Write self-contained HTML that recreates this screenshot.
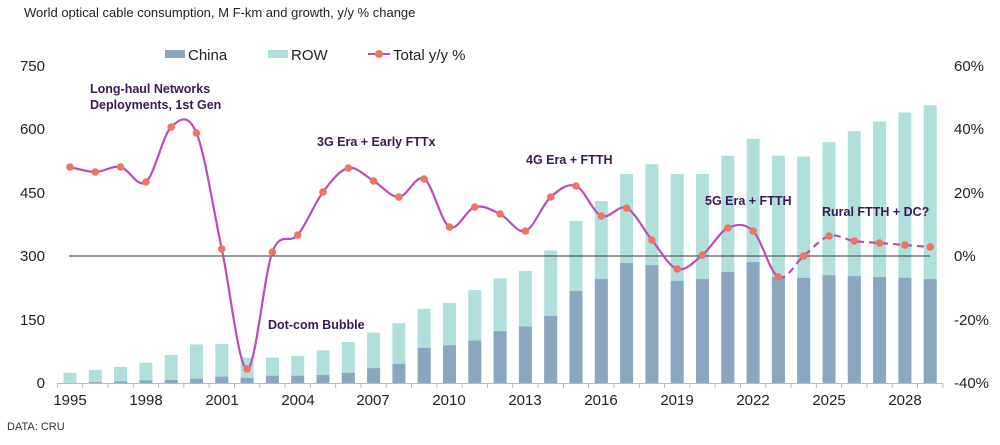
<!DOCTYPE html>
<html><head><meta charset="utf-8"><style>
body{margin:0;background:#fff;width:1000px;height:440px;overflow:hidden}
svg{font-family:"Liberation Sans",Arial,sans-serif}
.a{font-weight:bold;font-size:12.5px;fill:#3a1a50}
.t{font-size:15px;fill:#222}
</style></head><body>
<svg id="s" width="1000" height="440" viewBox="0 0 1000 440">
<text x="24" y="17" font-size="13" fill="#222">World optical cable consumption, M F-km and growth, y/y % change</text>
<rect x="165" y="50" width="20" height="8" fill="#8aa7bf"/><text class="t" x="188" y="60">China</text>
<rect x="268" y="50" width="20" height="8" fill="#b0e0dc"/><text class="t" x="291" y="60">ROW</text>
<line x1="368" y1="54" x2="390" y2="54" stroke="#b94fb0" stroke-width="2"/><circle cx="379" cy="54" r="4" fill="#f07368"/><text class="t" x="393" y="60">Total y/y %</text>
<g class="t" text-anchor="end">
<text x="45" y="71">750</text><text x="45" y="134">600</text><text x="45" y="198">450</text><text x="45" y="261">300</text><text x="45" y="325">150</text><text x="45" y="388">0</text>
</g>
<g class="t">
<text x="954" y="71">60%</text><text x="954" y="134">40%</text><text x="954" y="198">20%</text><text x="954" y="261">0%</text><text x="954" y="325">-20%</text><text x="954" y="388">-40%</text>
</g>
<g id="bars"></g>
<line x1="69" y1="256" x2="930" y2="256" stroke="#333" stroke-width="1"/>
<g id="axis"></g>
<path id="l1" fill="none" stroke="#b94fb0" stroke-width="2.2"/>
<path id="l2" fill="none" stroke="#b94fb0" stroke-width="2.2" stroke-dasharray="7,5"/>
<g id="dots"></g>
<g class="t" text-anchor="middle">
<text x="70" y="405">1995</text><text x="146" y="405">1998</text><text x="222" y="405">2001</text><text x="298" y="405">2004</text><text x="373" y="405">2007</text><text x="449" y="405">2010</text><text x="525" y="405">2013</text><text x="601" y="405">2016</text><text x="677" y="405">2019</text><text x="753" y="405">2022</text><text x="829" y="405">2025</text><text x="905" y="405">2028</text>
</g>
<text class="a" x="90" y="93">Long-haul Networks</text>
<text class="a" x="90" y="109">Deployments, 1st Gen</text>
<text class="a" x="317" y="146">3G Era + Early FTTx</text>
<text class="a" x="268" y="329">Dot-com Bubble</text>
<text class="a" x="526" y="164">4G Era + FTTH</text>
<text class="a" x="705" y="205">5G Era + FTTH</text>
<text class="a" x="822" y="216">Rural FTTH + DC?</text>
<text x="7" y="430" font-size="11" fill="#333">DATA: CRU</text>
</svg>
<script>
var tot=[24,31,38,48,66,91,92,60,60,64,77,97,119,141,175,189,219,247,264,313,382,429,493,516,493,493,536,576,536,534,568,594,617,638,655];
var chn=[0,2,4,6,7,10,15,12,17,17,19,24,35,45,83,89,100,122,133,158,217,245,283,278,241,245,262,285,250,248,254,252,250,248,245];
var ly=[167,172,167,182,127,133,249,369,252,235,192,168,181,197,179,227,207,214,231,197,186,216,208,240,269,255,228,231,277,256,236,241,243,245,247];
var k=0.424,y0=383,ns="http://www.w3.org/2000/svg";
function X(i){return 70+i*25.3}
function el(t,a,p){var e=document.createElementNS(ns,t);for(var q in a)e.setAttribute(q,a[q]);document.getElementById(p).appendChild(e)}
for(var i=0;i<35;i++){var x=X(i)-6.5;
el('rect',{x:x,y:y0-tot[i]*k,width:13,height:tot[i]*k,fill:'#b0e0dc'},'bars');
el('rect',{x:x,y:y0-chn[i]*k,width:13,height:chn[i]*k,fill:'#8aa7bf'},'bars');}
el('line',{x1:57,y1:383.5,x2:942,y2:383.5,stroke:'#bbb'},'axis');
for(var i=0;i<=35;i++){var x=X(i)-12.65;el('line',{x1:x,y1:383,x2:x,y2:388,stroke:'#bbb'},'axis');}
function path(a,b){var d='M'+X(a)+','+ly[a];for(var i=a;i<b;i++){var p0=Math.max(i-1,0),p3=Math.min(i+2,34);
var c1x=X(i)+(X(i+1)-X(p0))/6,c1y=ly[i]+(ly[i+1]-ly[p0])/6,c2x=X(i+1)-(X(p3)-X(i))/6,c2y=ly[i+1]-(ly[p3]-ly[i])/6;
d+=' C'+c1x+','+c1y+' '+c2x+','+c2y+' '+X(i+1)+','+ly[i+1];}return d}
document.getElementById('l1').setAttribute('d',path(0,28));
document.getElementById('l2').setAttribute('d',path(28,34));
for(var i=0;i<35;i++)el('circle',{cx:X(i),cy:ly[i],r:3.8,fill:'#f07368'},'dots');
</script>
</body></html>
